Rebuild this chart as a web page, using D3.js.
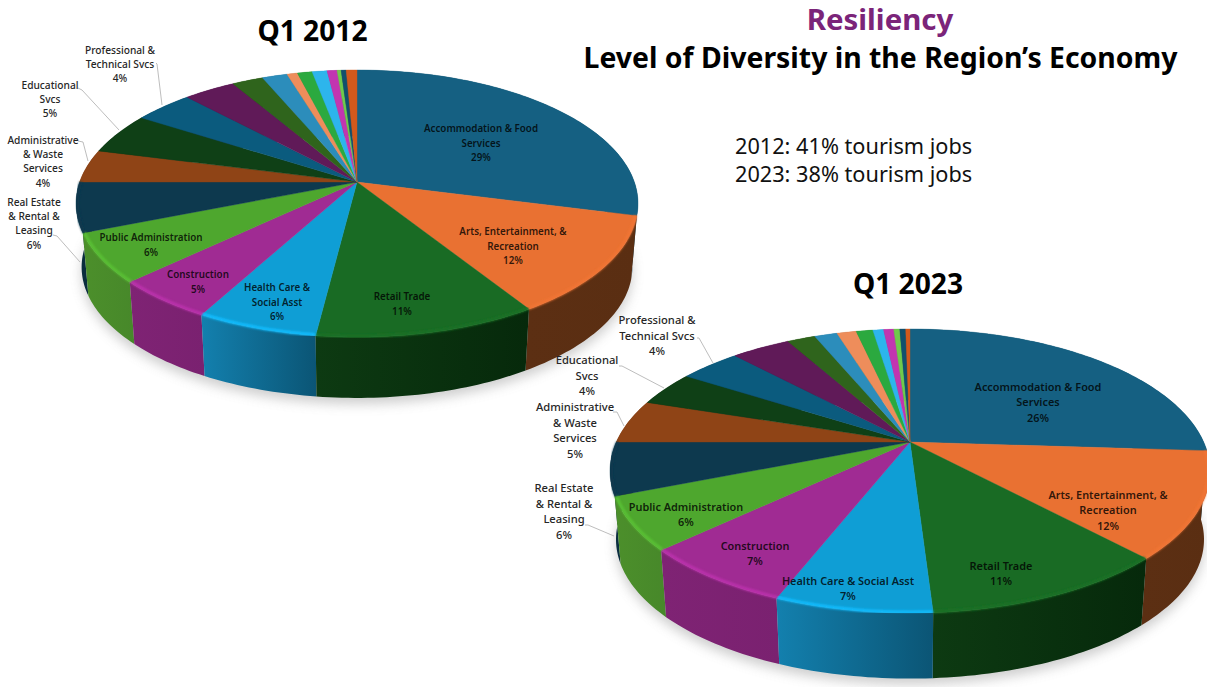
<!DOCTYPE html>
<html>
<head>
<meta charset="utf-8">
<title>Level of Diversity in the Region's Economy</title>
<script src="https://cdn.jsdelivr.net/npm/d3@7/dist/d3.min.js"></script>
<style>
  html, body { margin: 0; padding: 0; background: #fff; overflow: hidden; }
  svg { display: block; font-family: "Noto Sans", sans-serif; }
</style>
</head>
<body>
<svg id="chart" width="1207" height="687"></svg>
<script>
// Employment share by industry, in percent, clockwise from twelve o'clock.
const categories = [
  "Accommodation & Food Services", "Arts, Entertainment, & Recreation", "Retail Trade",
  "Health Care & Social Asst", "Construction", "Public Administration",
  "Real Estate & Rental & Leasing", "Administrative & Waste Services", "Educational Svcs",
  "Professional & Technical Svcs", "Manufacturing", "Finance & Insurance", "Transportation",
  "Other Services", "Wholesale Trade", "Information", "Utilities", "Agriculture", "Mining", "Management"
];
const values2012 = [29, 12, 11, 6, 5, 6, 6, 4, 5, 4, 3.5, 2.1, 1.7, 0.7, 1, 1, 0.67, 0.27, 0.34, 0.72];
const values2023 = [26, 12, 11, 7, 7, 6, 6, 5, 4, 4, 3.85, 1.85, 1.5, 1.27, 1.1, 0.7, 0.67, 0.39, 0.39, 0.28];

// Wrapped label text per slice; slices without text carry no label.
const wrap2012 = [
  ["Accommodation & Food", "Services"], ["Arts, Entertainment, &", "Recreation"], ["Retail Trade"],
  ["Health Care &", "Social Asst"], ["Construction"], ["Public Administration"],
  ["Real Estate", "& Rental &", "Leasing"], ["Administrative", "& Waste", "Services"],
  ["Educational", "Svcs"], ["Professional &", "Technical Svcs"]
];
const wrap2023 = [
  ["Accommodation & Food", "Services"], ["Arts, Entertainment, &", "Recreation"], ["Retail Trade"],
  ["Health Care & Social Asst"], ["Construction"], ["Public Administration"],
  ["Real Estate", "& Rental &", "Leasing"], ["Administrative", "& Waste", "Services"],
  ["Educational", "Svcs"], ["Professional &", "Technical Svcs"]
];

const topColors = [
  "#156082", "#E97132", "#196B24", "#0F9ED5", "#A02B93", "#4EA72E", "#0D394E", "#8F4416", "#0F4016", "#0B5B7E",
  "#601A58", "#2F641C", "#2C8DBB", "#EE8D5B", "#2BA93F", "#2DB5EC", "#C235B0", "#6FCB4B", "#11506D", "#D2591C"
];
// Front wall shading, left to right across each visible slice.
const wallLeft = ["#12506C", "#5C2F13", "#0D3A12", "#1380AE", "#7F2374", "#4C8F2B", "#0A2D3E"];
const wallRight = ["#12506C", "#5A2E12", "#06290B", "#0B5575", "#7A2170", "#47882A", "#0A2D3E"];
// How far the bevel on the near rim lifts each slice's colour.
const rimLift = [0.1, 0.15, 0.5, 0.45, 0.4, 0];

// Label placement: centre x and first-line middle y, plus leader polylines.
const labelSpots2012 = [
  [481, 129], [513, 232], [402, 297], [277, 288], [198, 275], [151, 238],
  [34, 202], [43, 140], [50, 85], [120, 50]
];
const labelSpots2023 = [
  [1038, 387], [1108, 495], [1001, 566], [848, 581], [755, 546], [686, 507],
  [564, 488], [575, 407], [587, 360], [657, 320]
];
const leaders2012 = [
  [[53, 235], [57, 236], [80, 262]], [[78, 141], [83, 142], [88, 161]],
  [[78, 88], [82, 90], [119, 130]], [[156, 63], [157, 64], [162, 105]]
];
const leaders2023 = [
  [[585, 525], [588, 525], [614, 536]], [[613, 412], [617, 412], [624, 426]],
  [[619, 366], [622, 366], [664, 388]], [[697, 338], [699, 338], [713, 363]]
];

const pies = [
  { year: "Q1 2012", values: values2012, wrap: wrap2012, spots: labelSpots2012, leaders: leaders2012,
    cx: 357, cy: 182, up: 112, down: 155, left: 281, drop: 64,
    innerSize: 9.8, outerSize: 10.2, lineStep: 14.4 },
  { year: "Q1 2023", values: values2023, wrap: wrap2023, spots: labelSpots2023, leaders: leaders2023,
    cx: 910, cy: 442, up: 113, down: 171, left: 300, drop: 69,
    innerSize: 10.9, outerSize: 11.2, lineStep: 15.6 }
];

const svg = d3.select("#chart");
const defs = svg.append("defs");

defs.append("filter").attr("id", "softShadow")
  .attr("x", "-15%").attr("y", "-15%").attr("width", "130%").attr("height", "130%")
  .append("feGaussianBlur").attr("stdDeviation", 6);
defs.append("filter").attr("id", "softRim")
  .attr("x", "-5%").attr("y", "-5%").attr("width", "110%").attr("height", "110%")
  .append("feGaussianBlur").attr("stdDeviation", 0.8);

const pieLayout = d3.pie().sort(null).value(d => d).startAngle(0).endAngle(2 * Math.PI);
const pathLine = d3.line();

// Perspective mapping of the tilted disc: the hub sits above the centre of the
// visible ellipse, and the far side of the rim is foreshortened.
function makeProjector(p) {
  const k = (p.down - p.up) / (p.down + p.up);
  const S = p.up * (1 + k);
  const R = p.left * Math.sqrt(1 - k * k);
  return (angle, scale = 1, shift = 0) => {
    const u = Math.sin(angle), v = -Math.cos(angle), w = 1 - k * v;
    return [p.cx + scale * R * u / w, p.cy + shift + scale * S * v / w];
  };
}

function arcPoints(project, a0, a1, scale, shift) {
  const n = Math.max(2, Math.ceil((a1 - a0) / 0.02));
  return d3.range(n + 1).map(i => project(a0 + (a1 - a0) * i / n, scale, shift));
}

pies.forEach((p, pieIndex) => {
  const project = makeProjector(p);
  const slices = pieLayout(p.values);
  const g = svg.append("g");
  const lowerScale = 0.98;

  // Ground shadow under the disc
  g.append("path")
    .attr("d", pathLine(arcPoints(project, 0, 2 * Math.PI, lowerScale, p.drop + 6)) + "Z")
    .attr("fill", "#8a8a8a").attr("opacity", 0.42)
    .attr("filter", "url(#softShadow)");

  // Side walls, far ones first
  const wallOrder = slices.map((s, i) => ({ s, i }))
    .sort((a, b) => Math.cos((b.s.startAngle + b.s.endAngle) / 2) - Math.cos((a.s.startAngle + a.s.endAngle) / 2));
  wallOrder.forEach(({ s, i }) => {
    const id = `wall-${pieIndex}-${i}`;
    const fallback = d3.color(topColors[i]).darker(1).formatHex();
    const grad = defs.append("linearGradient").attr("id", id);
    grad.append("stop").attr("offset", "0%").attr("stop-color", i <= 6 ? wallLeft[i] : fallback);
    grad.append("stop").attr("offset", "100%").attr("stop-color", i <= 6 ? wallRight[i] : fallback);
    const upper = arcPoints(project, s.startAngle, s.endAngle, 1, 0);
    const lower = arcPoints(project, s.startAngle, s.endAngle, lowerScale, p.drop).reverse();
    g.append("path")
      .attr("d", pathLine(upper.concat(lower)) + "Z")
      .attr("fill", `url(#${id})`);
  });

  // Top face wedges
  g.selectAll("path.wedge").data(slices).join("path")
    .attr("class", "wedge")
    .attr("d", (s) => pathLine([[p.cx, p.cy]].concat(arcPoints(project, s.startAngle, s.endAngle, 1, 0))) + "Z")
    .attr("fill", (s, i) => topColors[i])
    .attr("stroke", (s, i) => topColors[i]).attr("stroke-width", 0.4);

  // Bevel highlight on the near rim
  g.selectAll("path.rim").data(slices.slice(1, 7)).join("path")
    .attr("class", "rim")
    .attr("d", s => pathLine(arcPoints(project, s.startAngle, s.endAngle, 0.995, 0)))
    .attr("fill", "none")
    .attr("stroke", (s, i) => d3.color(topColors[i + 1]).brighter(rimLift[i]).formatHex())
    .attr("stroke-width", 3)
    .attr("filter", "url(#softRim)");

  // Leader lines for the labels outside the disc
  g.selectAll("path.leader").data(p.leaders).join("path")
    .attr("class", "leader")
    .attr("d", d => pathLine(d))
    .attr("fill", "none").attr("stroke", "#b5b5b5").attr("stroke-width", 0.9);

  // Slice labels: wrapped name plus the rounded share
  const pct = d3.format(".0f");
  p.spots.forEach((spot, i) => {
    const outside = i >= 6;
    const t = g.append("text")
      .attr("text-anchor", "middle")
      .attr("font-size", outside ? p.outerSize : p.innerSize)
      .attr("font-weight", outside ? 500 : 600)
      .attr("fill", outside ? "#262626" : "rgba(0,0,0,0.8)");
    p.wrap[i].concat(pct(p.values[i]) + "%").forEach((line, j) => {
      t.append("tspan")
        .attr("x", spot[0])
        .attr("y", spot[1] + j * p.lineStep)
        .attr("dy", "0.35em")
        .text(line);
    });
  });
});

// Headings
const heading = (text, x, y, size, weight, fill, anchor = "middle") =>
  svg.append("text").attr("x", x).attr("y", y)
    .attr("text-anchor", anchor).attr("font-size", size).attr("font-weight", weight)
    .attr("fill", fill).text(text);

heading("Q1 2012", 312.5, 41, 28.2, 700, "#000");
heading("Q1 2023", 908, 294, 28.2, 700, "#000");
heading("Resiliency", 880, 30, 29.4, 700, "#7B2479");
heading("Level of Diversity in the Region\u2019s Economy", 880.5, 68, 28.4, 700, "#000");
heading("2012: 41% tourism jobs", 735, 154, 21.7, 400, "#111", "start");
heading("2023: 38% tourism jobs", 735, 182, 21.7, 400, "#111", "start");
</script>
</body>
</html>
